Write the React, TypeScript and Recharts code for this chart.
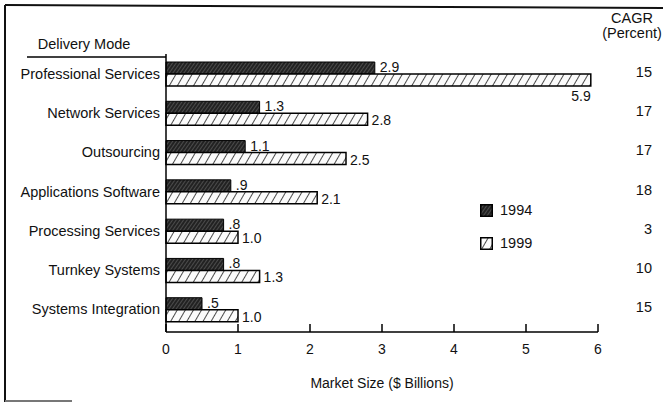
import { BarChart, Bar, XAxis, YAxis, Legend, LabelList, Label } from "recharts";

const categories = [
  "Professional Services",
  "Network Services",
  "Outsourcing",
  "Applications Software",
  "Processing Services",
  "Turnkey Systems",
  "Systems Integration",
];
const values1994 = [2.9, 1.3, 1.1, 0.9, 0.8, 0.8, 0.5];
const values1999 = [5.9, 2.8, 2.5, 2.1, 1.0, 1.3, 1.0];
const cagr = [15, 17, 17, 18, 3, 10, 15];
const xTicks = [0, 1, 2, 3, 4, 5, 6];

const data = categories.map((name, i) => ({
  name,
  y1994: values1994[i],
  y1999: values1999[i],
}));

const FONT = '"Liberation Sans", Arial, Helvetica, sans-serif';
const INK = "#111";

// ".9" style for values under one, "2.9" otherwise
const fmt = (v: number) => (v < 1 ? v.toFixed(1).replace(/^0/, "") : v.toFixed(1));

const XTick = (props: any) => {
  const { x, y, payload } = props;
  return (
    <g>
      <line x1={x} x2={x} y1={y} y2={y - 8} stroke="#000" strokeWidth={1.5} />
      <text x={x} y={y + 17} textAnchor="middle" dominantBaseline="central" fontSize={14} fill={INK} fontFamily={FONT}>
        {payload.value}
      </text>
    </g>
  );
};

const CatTick = (props: any) => {
  const { x, y, payload } = props;
  return (
    <text x={x} y={y} textAnchor="end" dominantBaseline="central" fontSize={14.5} fill={INK} fontFamily={FONT}>
      {payload.value}
    </text>
  );
};

const CagrTick = (props: any) => {
  const { x, y, index } = props;
  return (
    <text x={x + 54} y={y - 2} textAnchor="end" dominantBaseline="central" fontSize={14.5} fill={INK} fontFamily={FONT}>
      {cagr[index]}
    </text>
  );
};

const Label1994 = (p: any) => (
  <text x={p.x + p.width + 5} y={p.y + p.height / 2 - 1} dominantBaseline="central" fontSize={14} fill={INK} fontFamily={FONT}>
    {fmt(Number(p.value))}
  </text>
);

const Label1999 = (p: any) => {
  const v = Number(p.value);
  const end = p.x + p.width;
  // the longest bar has its label tucked under the end
  if (v > 5) {
    return (
      <text x={end} y={p.y + p.height + 10} textAnchor="end" dominantBaseline="central" fontSize={14} fill={INK} fontFamily={FONT}>
        {fmt(v)}
      </text>
    );
  }
  return (
    <text x={end + 4} y={p.y + p.height / 2 + 1} dominantBaseline="central" fontSize={14} fill={INK} fontFamily={FONT}>
      {fmt(v)}
    </text>
  );
};

const LegendBox = () => (
  <div style={{ fontFamily: FONT, fontSize: 14.5, color: INK, lineHeight: "16px" }}>
    {[
      { key: "1994", fill: "url(#hatchDark)" },
      { key: "1999", fill: "url(#hatchLight)" },
    ].map((it, i) => (
      <div key={it.key} style={{ display: "flex", alignItems: "center", marginTop: i ? 17 : 0 }}>
        <svg width={13} height={13} style={{ marginRight: 7 }}>
          <rect x={0.75} y={0.75} width={11.5} height={11.5} fill={it.fill} stroke="#000" strokeWidth={1.5} />
        </svg>
        <span>{it.key}</span>
      </div>
    ))}
  </div>
);

export default function App() {
  return (
    <div style={{ position: "absolute", left: 0, top: 0, width: 663, height: 404, background: "#fff" }}>
      <BarChart
        width={663}
        height={404}
        data={data}
        layout="vertical"
        margin={{ top: 54, right: 0, bottom: 0, left: 0 }}
        barGap={0}
      >
        <defs>
          <pattern id="hatchDark" patternUnits="userSpaceOnUse" width={3} height={3} patternTransform="rotate(35)">
            <rect width={3} height={3} fill="#222" />
            <line x1={0} y1={0} x2={0} y2={3} stroke="#8c8c8c" strokeWidth={0.8} />
          </pattern>
          <pattern id="hatchLight" patternUnits="userSpaceOnUse" width={7} height={7} patternTransform="rotate(30)">
            <rect width={7} height={7} fill="#fbfbfb" />
            <line x1={0} y1={0} x2={0} y2={7} stroke="#111" strokeWidth={1.5} />
          </pattern>
        </defs>
        <XAxis
          type="number"
          domain={[0, 6]}
          ticks={xTicks}
          height={72}
          tickSize={0}
          tickMargin={0}
          tickLine={false}
          axisLine={{ stroke: "#000", strokeWidth: 1.5 }}
          tick={<XTick />}
          interval={0}
        >
          <Label
            value="Market Size ($ Billions)"
            position="insideBottom"
            offset={16}
            style={{ fontFamily: FONT, fontSize: 14, fill: INK }}
          />
        </XAxis>
        <YAxis
          type="category"
          dataKey="name"
          width={166}
          tickSize={0}
          tickMargin={6}
          tickLine={false}
          axisLine={{ stroke: "#000", strokeWidth: 1.5 }}
          tick={<CatTick />}
          padding={{ top: 0, bottom: 3 }}
          interval={0}
        />
        <YAxis
          yAxisId="cagr"
          orientation="right"
          type="category"
          dataKey="name"
          width={65}
          tickSize={0}
          tickMargin={0}
          tickLine={false}
          axisLine={false}
          tick={<CagrTick />}
          padding={{ top: 0, bottom: 3 }}
          interval={0}
        />
        <Legend
          layout="vertical"
          align="center"
          verticalAlign="middle"
          content={<LegendBox />}
          wrapperStyle={{ left: 480, top: 202, width: 90 }}
        />
        <Bar dataKey="y1994" name="1994" fill="url(#hatchDark)" stroke="#000" strokeWidth={1} barSize={12} isAnimationActive={false}>
          <LabelList dataKey="y1994" content={<Label1994 />} />
        </Bar>
        <Bar dataKey="y1999" name="1999" fill="url(#hatchLight)" stroke="#000" strokeWidth={1.5} barSize={12} isAnimationActive={false}>
          <LabelList dataKey="y1999" content={<Label1999 />} />
        </Bar>
      </BarChart>
      <svg width={663} height={404} style={{ position: "absolute", left: 0, top: 0, pointerEvents: "none" }}>
        <line x1={5} y1={5} x2={663} y2={8} stroke="#111" strokeWidth={2} />
        <line x1={5} y1={5} x2={5} y2={402} stroke="#111" strokeWidth={2} />
        <line x1={5} y1={401} x2={72} y2={401} stroke="#777" strokeWidth={2} />
        <text x={84} y={44} textAnchor="middle" dominantBaseline="central" fontSize={14.5} fill={INK} fontFamily={FONT}>
          Delivery Mode
        </text>
        <line x1={27} y1={57} x2={166} y2={57} stroke="#000" strokeWidth={1.5} />
        <text x={632} y={18} textAnchor="middle" dominantBaseline="central" fontSize={14.5} fill={INK} fontFamily={FONT}>
          CAGR
        </text>
        <text x={632} y={33} textAnchor="middle" dominantBaseline="central" fontSize={14.5} fill={INK} fontFamily={FONT}>
          (Percent)
        </text>
      </svg>
    </div>
  );
}
